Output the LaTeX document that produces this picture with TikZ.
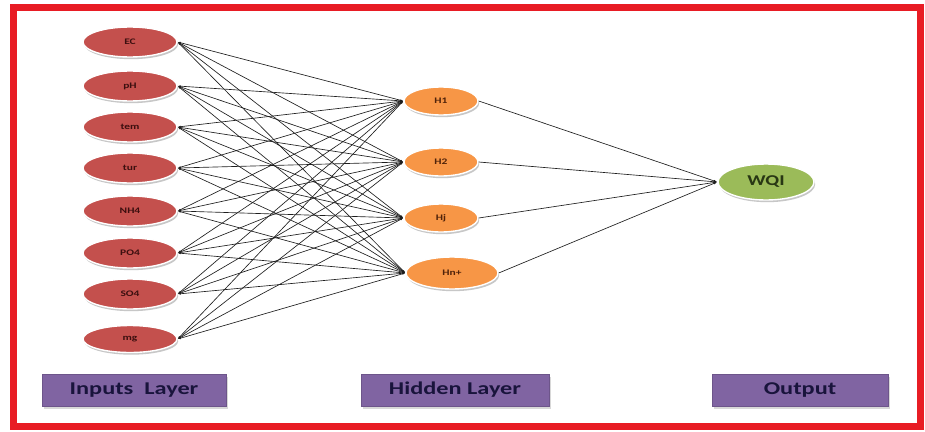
\documentclass[tikz,border=0pt]{standalone}
\usepackage{fontspec}
\setmainfont{Carlito}
\usetikzlibrary{shapes.geometric,shadows,arrows.meta}
\definecolor{bord}{RGB}{232,28,36}
\definecolor{inred}{RGB}{196,80,77}
\definecolor{hidor}{RGB}{247,150,70}
\definecolor{outgr}{RGB}{155,187,89}
\definecolor{labpu}{RGB}{128,100,162}
\definecolor{labtx}{RGB}{25,20,60}
\definecolor{intx}{RGB}{60,15,15}
\definecolor{hidtx}{RGB}{80,35,10}
\definecolor{outtx}{RGB}{40,55,20}
\definecolor{linec}{RGB}{30,30,30}
\tikzset{
  ell/.style={ellipse, inner sep=0pt, draw=white, line width=1.4pt,
    drop shadow={shadow xshift=1.2pt, shadow yshift=-2.2pt, fill=gray!55, opacity=0.8}},
  innode/.style={ell, fill=inred, minimum width=94pt, minimum height=30pt,
    text=intx, font=\bfseries\fontsize{8.5}{9}\selectfont},
  hidnode/.style={ell, fill=hidor, minimum width=74pt, minimum height=28pt,
    text=hidtx, font=\bfseries\fontsize{8.5}{9}\selectfont},
  outnode/.style={ell, fill=outgr, minimum width=96pt, minimum height=36pt,
    text=outtx, font=\bfseries\fontsize{15}{16}\selectfont},
  labbox/.style={rectangle, fill=labpu, draw=labpu!85!black, line width=0.5pt,
    inner sep=0pt, text=labtx, font=\bfseries\fontsize{18}{20}\selectfont,
    drop shadow={shadow xshift=2pt, shadow yshift=-2.5pt, fill=gray!60}},
  conn/.style={draw=linec, line width=0.65pt, {Latex[length=3pt,width=2pt]}-{Latex[length=3pt,width=2pt]}},
  conn2/.style={draw=linec, line width=0.65pt, -{Latex[length=3.5pt,width=2.2pt]}}
}
\newcommand{\sx}[1]{\scalebox{1.35}[1]{#1}}
\begin{document}
\begin{tikzpicture}[x=1pt,y=-1pt]
\useasboundingbox (0,0) rectangle (925,431);
\fill[white] (0,0) rectangle (925,431);
\draw[bord, line width=7pt] (13,7) rectangle (920,426);
% input nodes
\node[innode] (i1) at (130,42) {\sx{EC}};
\node[innode] (i2) at (130,86) {\sx{pH}};
\node[innode] (i3) at (130,127) {\sx{tem}};
\node[innode] (i4) at (130,168) {\sx{tur}};
\node[innode] (i5) at (130,211) {\sx{NH4}};
\node[innode] (i6) at (130,253) {\sx{PO4}};
\node[innode] (i7) at (130,294) {\sx{SO4}};
\node[innode, minimum height=27pt] (i8) at (130,339) {\sx{mg}};
% hidden nodes
\node[hidnode] (h1) at (441,101) {\sx{H1}};
\node[hidnode] (h2) at (441,162) {\sx{H2}};
\node[hidnode] (h3) at (441,218) {\sx{Hj}};
\node[hidnode, minimum width=92pt, minimum height=32pt] (h4) at (452,273) {\sx{Hn+}};
% output node
\node[outnode] (o) at (766,182) {\sx{WQI}};
% connections
\foreach \i in {1,...,8}{
  \foreach \h in {1,...,4}{
    \draw[conn] (i\i.east) -- (h\h.west);
  }
}
\foreach \h in {1,...,4}{
  \draw[conn2] (h\h.east) -- (o.west);
}
% layer labels
\node[labbox, minimum width=184pt, minimum height=32pt] (l1) at (134,390) {\sx{Inputs\ \ Layer}};
\node[labbox, minimum width=188pt, minimum height=32pt] (l2) at (455,390) {\sx{Hidden Layer}};
\node[labbox, minimum width=176pt, minimum height=32pt] (l3) at (800,390) {\sx{Output}};
\end{tikzpicture}
\end{document}
